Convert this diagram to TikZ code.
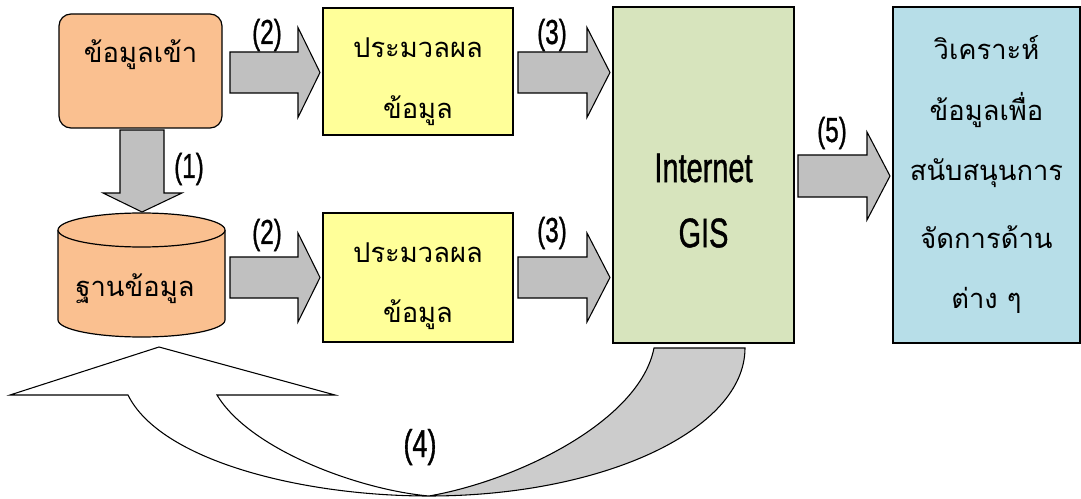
\documentclass[tikz,border=0pt]{standalone}
\usepackage{fontspec}
\usepackage{graphicx}
\newfontfamily\thaifont[Script=Thai]{Loma}
\newfontfamily\labfont[FakeBold=1.2]{Liberation Sans}
\definecolor{orangefill}{HTML}{FAC090}
\definecolor{yellowfill}{HTML}{FFFF99}
\definecolor{greenfill}{HTML}{D7E4BD}
\definecolor{bluefill}{HTML}{B7DEE8}
\definecolor{arrowgray}{HTML}{C0C0C0}
\definecolor{curvegray}{HTML}{CCCCCC}
\newcommand{\cond}[2]{\scalebox{0.7}[1]{\fontsize{#1}{#1}\labfont #2}}
\tikzset{
  boxbase/.style={draw=black, line width=0.9pt, inner sep=0pt},
  thaitext/.style={font=\fontsize{20.5}{24}\thaifont, inner sep=0pt},
  numlabel/.style={inner sep=0pt},
  blockarrow/.style={draw=black, line width=0.8pt, fill=arrowgray, line join=miter},
  curvearrow/.style={draw=black, line width=0.8pt, line join=miter},
}
\newcommand{\rightblock}[6]{% x0, x1(head base), x2 tip, ymid, shaft half, head half
  \draw[blockarrow] (#1,#4-#5) -- (#2,#4-#5) -- (#2,#4-#6) -- (#3,#4) -- (#2,#4+#6) -- (#2,#4+#5) -- (#1,#4+#5) -- cycle;}
\begin{document}
\begin{tikzpicture}[x=0.75pt,y=-0.75pt]
\useasboundingbox (0,0) rectangle (1081,499);
% boxes
\node[boxbase, fill=orangefill, rounded corners=9pt, minimum width=122.25pt, minimum height=85.5pt] (in) at (140.5,71) {};
\node[boxbase, fill=yellowfill, minimum width=142.5pt, minimum height=95.25pt] (p1) at (418,71.5) {};
\node[boxbase, fill=yellowfill, minimum width=142.5pt, minimum height=96.75pt] (p2) at (418,277.5) {};
\node[boxbase, fill=greenfill, minimum width=135.75pt, minimum height=252pt] (gis) at (703.5,175) {};
\node[boxbase, fill=bluefill, minimum width=140.25pt, minimum height=252pt] (out) at (986.5,175) {};
% database cylinder
\coordinate (dbtop) at (141.5,230);
\fill[orangefill] (58,230) -- (58,320) arc[start angle=180, end angle=0, x radius=83.5, y radius=17] -- (225,230) -- cycle;
\draw[line width=0.9pt] (58,230) -- (58,320) arc[start angle=180, end angle=0, x radius=83.5, y radius=17] -- (225,230);
\draw[line width=0.9pt, fill=orangefill] (dbtop) ellipse[x radius=83.5, y radius=17];
\node[thaitext] (db) at (135,289) {ฐานข้อมูล};
% texts
\node[thaitext] (intext) at (140.5,55) {ข้อมูลเข้า};
\node[thaitext] (p1a) at (418,48) {ประมวลผล};
\node[thaitext] (p1b) at (418,111) {ข้อมูล};
\node[thaitext] (p2a) at (418,253) {ประมวลผล};
\node[thaitext] (p2b) at (418,315) {ข้อมูล};
\node[numlabel] (gisa) at (703.5,168) {\cond{31}{Internet}};
\node[numlabel] (gisb) at (703.5,233) {\cond{31}{GIS}};
\node[thaitext] (o1) at (986.5,48) {วิเคราะห์};
\node[thaitext] (o2) at (986.5,110) {ข้อมูลเพื่อ};
\node[thaitext] (o3) at (986.5,173) {สนับสนุนการ};
\node[thaitext] (o4) at (986.5,237) {จัดการด้าน};
\node[thaitext] (o5) at (986.5,300) {ต่าง ๆ};
% block arrows
\rightblock{230}{298}{320}{72.5}{20.5}{45}
\rightblock{230}{298}{320}{277.5}{20.5}{44.5}
\rightblock{518}{587}{610}{72.5}{20.5}{45}
\rightblock{518}{587}{610}{277.5}{20.5}{44.5}
\rightblock{798}{867}{890}{176}{21}{44}
\draw[blockarrow] (120,130) -- (164,130) -- (164,193) -- (182,193) -- (142,212) -- (103,193) -- (120,193) -- cycle;
% curved return arrow
\draw[curvearrow, fill=curvegray] (654,348) -- (745,348) arc[start angle=0, end angle=90, x radius=316, y radius=148] .. controls (520,480) and (640,420) .. (654,348) -- cycle;
\draw[curvearrow, fill=white] (429,496) .. controls (300,496) and (160,460) .. (128,395) -- (10,395) -- (159,347) -- (335,395) -- (217,395) .. controls (250,450) and (360,490) .. (429,496) -- cycle;
% number labels
\node[numlabel] (l1) at (189,169) {\cond{26}{(1)}};
\node[numlabel] (l2a) at (267,35) {\cond{26}{(2)}};
\node[numlabel] (l2b) at (267,235) {\cond{26}{(2)}};
\node[numlabel] (l3a) at (552,35) {\cond{26}{(3)}};
\node[numlabel] (l3b) at (552,233) {\cond{26}{(3)}};
\node[numlabel] (l4) at (420,447) {\cond{29}{(4)}};
\node[numlabel] (l5) at (832,133) {\cond{26}{(5)}};
\end{tikzpicture}
\end{document}
